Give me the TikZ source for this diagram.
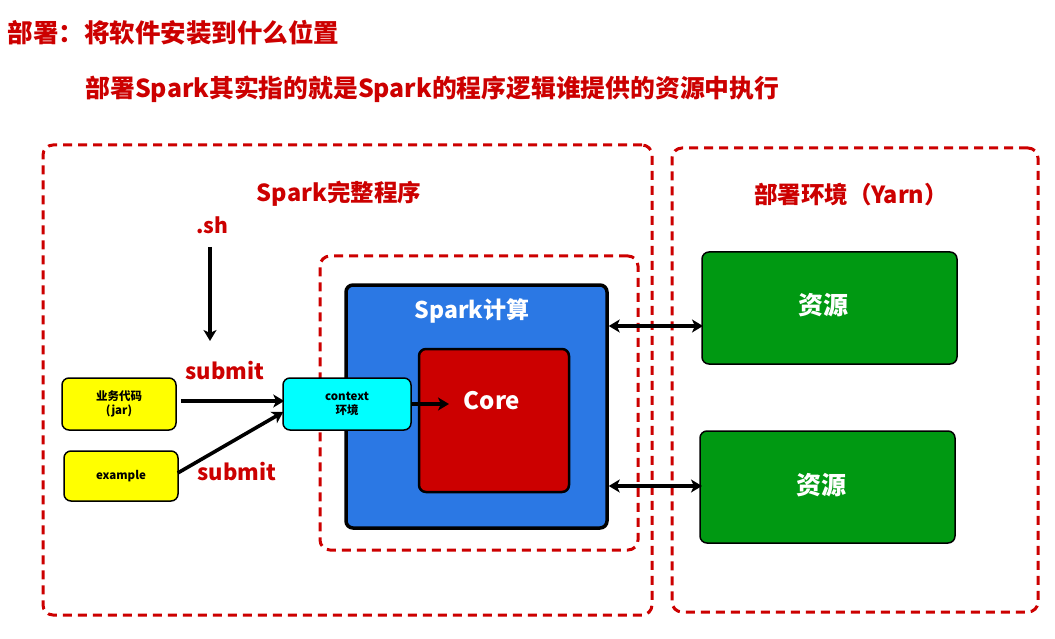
\documentclass[tikz,border=0pt]{standalone}
\usepackage{fontspec}
\setmainfont{Noto Sans CJK SC}
\usetikzlibrary{arrows.meta}
\definecolor{dred}{HTML}{CC0000}
\definecolor{sblue}{HTML}{2B78E4}
\definecolor{sgreen}{HTML}{009912}
\definecolor{syellow}{HTML}{FFFF00}
\definecolor{scyan}{HTML}{00FFFF}
\begin{document}
\begin{tikzpicture}[x=1pt,y=-1pt,
  dashbox/.style={draw=dred, line width=3pt, dash pattern=on 9pt off 6pt, rounded corners=10pt, minimum width=#1},
  solidbox/.style={draw=black, rounded corners=7pt},
  redtxt/.style={text=dred, font=\bfseries\fontsize{#1}{#1}\selectfont},
  whitetxt/.style={text=white, font=\bfseries\fontsize{#1}{#1}\selectfont},
  smalltxt/.style={align=center, font=\bfseries\fontsize{11.5}{13.5}\selectfont},
  arr/.style={line width=3.6pt, -{Stealth[length=11pt,width=13pt,inset=3pt]}},
  dbl/.style={line width=3.2pt, {Stealth[length=11pt,width=13pt,inset=3pt]}-{Stealth[length=11pt,width=13pt,inset=3pt]}}
]
\useasboundingbox (0,0) rectangle (1055,639);

% titles
\node[redtxt=25.5, anchor=west] (title) at (4,33) {部署：将软件安装到什么位置};
\node[redtxt=24.8, anchor=west] (subtitle) at (82,89) {部署Spark其实指的就是Spark的程序逻辑谁提供的资源中执行};

% dashed containers
\node[dashbox=609pt, minimum height=470pt] (outer1) at (347.5,380) {};
\node[dashbox=366pt, minimum height=464pt] (outer2) at (855,380) {};
\node[dashbox=318pt, minimum height=294pt] (inner) at (479,403) {};

\node[redtxt=23.5] (lab1) at (339,194) {Spark完整程序};
\node[redtxt=23.5] (lab2) at (851,195) {部署环境（Yarn）};

% spark compute
\node[solidbox, fill=sblue, line width=3.5pt, minimum width=261pt, minimum height=243pt] (blue) at (476.5,406.5) {};
\node[whitetxt=23] (bluelab) at (472,311) {Spark计算};
\node[solidbox, fill=dred, line width=2.5pt, minimum width=150pt, minimum height=143pt] (core) at (494,420.5) {};
\node[whitetxt=24] (corelab) at (492,401) {Core};

% inputs
\node[solidbox, fill=syellow, line width=1.5pt, minimum width=114pt, minimum height=52pt, smalltxt] (jar) at (119,404) {业务代码\\(jar)};
\node[solidbox, fill=syellow, line width=1.5pt, minimum width=114pt, minimum height=50pt, smalltxt] (ex) at (121,476) {example};
\node[solidbox, fill=scyan, line width=1.5pt, minimum width=128pt, minimum height=52pt, smalltxt] (ctx) at (347,404) {context\\环境};

% resources
\node[solidbox, fill=sgreen, line width=1.5pt, minimum width=255pt, minimum height=112pt] (g1) at (829.5,308) {};
\node[whitetxt=25] (g1lab) at (823,305) {资源};
\node[solidbox, fill=sgreen, line width=1.5pt, minimum width=255pt, minimum height=112pt] (g2) at (827.5,487) {};
\node[whitetxt=25] (g2lab) at (821,485) {资源};

% labels
\node[redtxt=21] (sh) at (212,225) {.sh};
\node[redtxt=22] (sub1) at (225,371) {submit};
\node[redtxt=22] (sub2) at (237,472) {submit};

% connectors
\coordinate (shtop) at (210,247);
\coordinate (shend) at (210,341);
\draw[arr] (shtop) -- (shend);
\draw[arr] ([xshift=4pt,yshift=3pt]jar.east) -- ([xshift=2pt,yshift=3pt]ctx.west);
\draw[arr] ([xshift=-1pt,yshift=3pt]ex.east) -- ([xshift=1pt,yshift=-8pt]ctx.west);
\coordinate (coreend) at (449,404);
\draw[arr] (ctx.east |- coreend) -- (coreend);
\coordinate (a1) at (703,326);
\coordinate (a2) at (702,486);
\draw[dbl] (blue.east |- a1) -- (a1);
\draw[dbl] (blue.east |- a2) -- (a2);
\end{tikzpicture}
\end{document}
